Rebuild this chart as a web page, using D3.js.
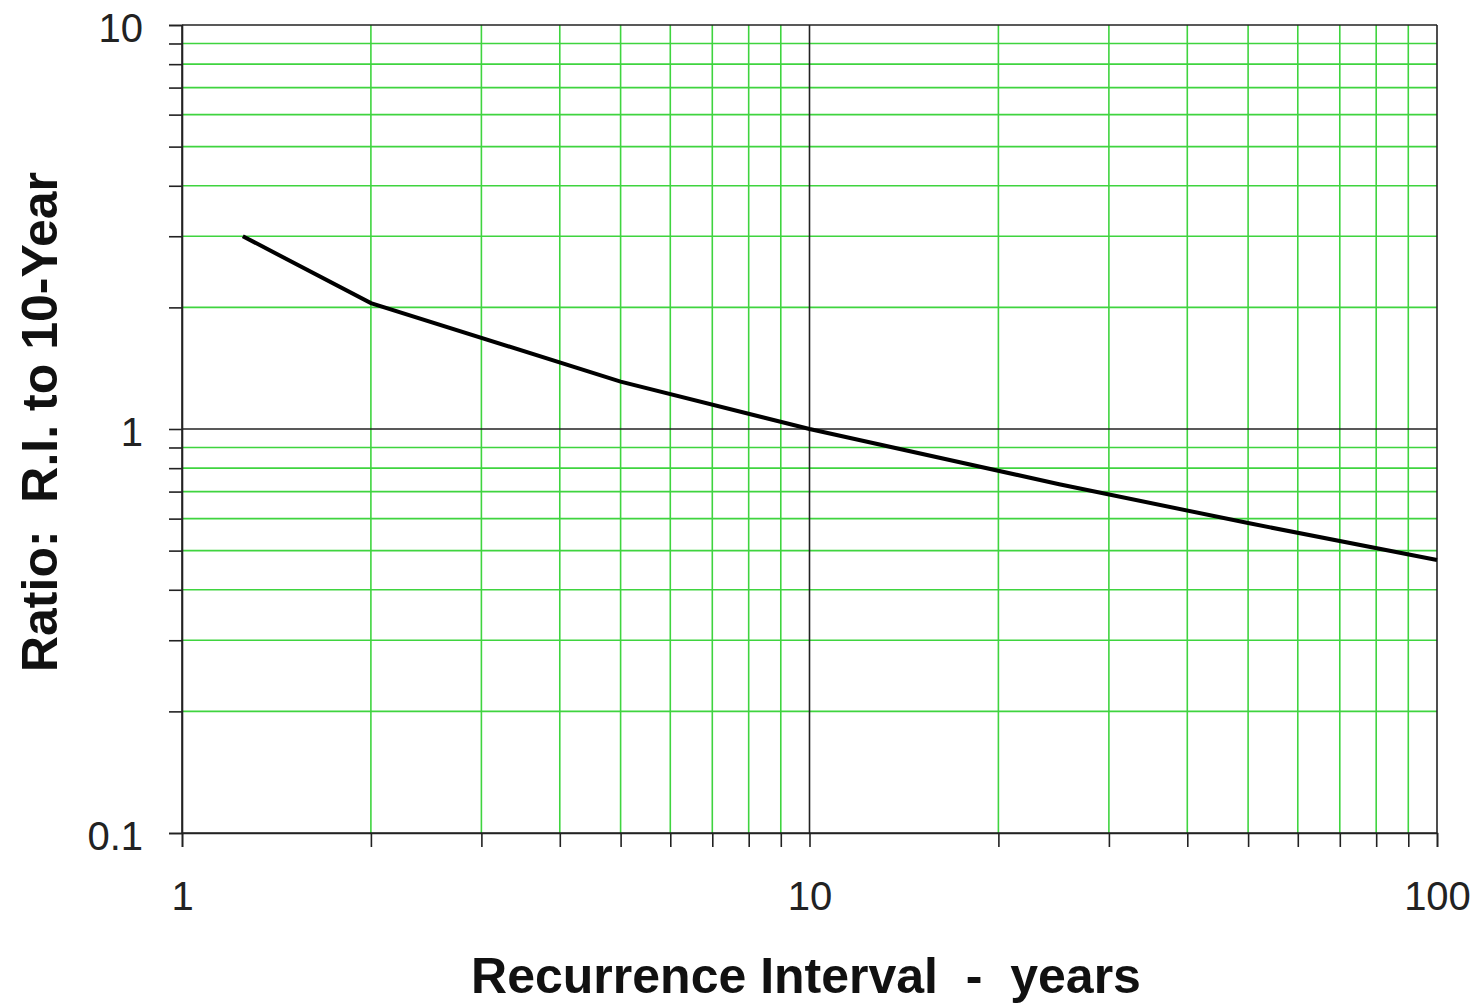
<!DOCTYPE html>
<html>
<head>
<meta charset="utf-8">
<script src="https://cdn.jsdelivr.net/npm/d3@7"></script>
<style>
  body { margin: 0; background: #fff; }
  svg { display: block; font-family: 'Liberation Sans', Arial, sans-serif; }
</style>
</head>
<body>
<div id="chart"></div>
<script>
'use strict';

// recurrence interval (years) and ratio to the 10-year value
const intervals = [1.25, 2, 5, 10, 25, 50, 100];
const ratios = [3.0, 2.05, 1.31, 1.0, 0.73, 0.585, 0.474];

const xTickLabels = [1, 10, 100];
const yTickLabels = [0.1, 1, 10];

const width = 1477;
const height = 1004;
const margin = { left: 182, right: 40, top: 25, bottom: 171 };

const svg = d3.select('#chart')
  .append('svg')
    .attr('width', width)
    .attr('height', height);

const x = d3.scaleLog()
  .domain([1, 100])
  .range([margin.left, width - margin.right]);

const y = d3.scaleLog()
  .domain([0.1, 10])
  .range([height - margin.bottom, margin.top]);

// minor values 2..9 in each decade
const minorX = [];
const minorY = [];
[1, 10].forEach(d => { for (let k = 2; k <= 9; k++) minorX.push(d * k); });
[0.1, 1].forEach(d => { for (let k = 2; k <= 9; k++) minorY.push(+(d * k).toFixed(2)); });

const green = '#3fd43f';

// green minor grid
svg.append('g')
  .selectAll('line')
  .data(minorX)
  .join('line')
    .attr('x1', d => x(d)).attr('x2', d => x(d))
    .attr('y1', y(10)).attr('y2', y(0.1))
    .attr('stroke', green)
    .attr('stroke-width', 1.6);

svg.append('g')
  .selectAll('line')
  .data(minorY)
  .join('line')
    .attr('x1', x(1)).attr('x2', x(100))
    .attr('y1', d => y(d)).attr('y2', d => y(d))
    .attr('stroke', green)
    .attr('stroke-width', 1.6);

// black major grid
svg.append('g')
  .selectAll('line')
  .data(xTickLabels)
  .join('line')
    .attr('x1', d => x(d)).attr('x2', d => x(d))
    .attr('y1', y(10)).attr('y2', y(0.1))
    .attr('stroke', '#222')
    .attr('stroke-width', 1.6);

svg.append('g')
  .selectAll('line')
  .data(yTickLabels)
  .join('line')
    .attr('x1', x(1)).attr('x2', x(100))
    .attr('y1', d => y(d)).attr('y2', d => y(d))
    .attr('stroke', '#222')
    .attr('stroke-width', 1.6);

// axes with tick marks
const xAxis = svg.append('g')
  .attr('transform', `translate(0,${y(0.1)})`)
  .call(d3.axisBottom(x)
    .tickValues(xTickLabels.concat(minorX))
    .tickSize(14)
    .tickPadding(35)
    .tickFormat(d => xTickLabels.includes(d) ? d : ''));

const yAxis = svg.append('g')
  .attr('transform', `translate(${x(1)},0)`)
  .call(d3.axisLeft(y)
    .tickValues(yTickLabels.concat(minorY))
    .tickSize(13)
    .tickPadding(26)
    .tickFormat(d => yTickLabels.includes(d) ? d : ''));

yAxis.selectAll('.tick text').attr('dy', '0.4em');

[xAxis, yAxis].forEach(a => {
  a.select('.domain').attr('stroke', '#222').attr('stroke-width', 1.6);
  a.selectAll('.tick line').attr('stroke', '#222').attr('stroke-width', 1.6);
  a.selectAll('.tick text')
    .attr('fill', '#222')
    .style('font-size', '40px')
    .style('font-family', "'Liberation Sans', Arial, sans-serif");
});

// the ratio curve
const line = d3.line()
  .x((d, i) => x(intervals[i]))
  .y(d => y(d));

svg.append('path')
  .datum(ratios)
  .attr('d', line)
  .attr('fill', 'none')
  .attr('stroke', '#000')
  .attr('stroke-width', 4);

// axis titles
svg.append('text')
  .attr('x', 806)
  .attr('y', 993)
  .attr('text-anchor', 'middle')
  .style('font-size', '50px')
  .style('font-weight', 'bold')
  .attr('fill', '#111')
  .attr('xml:space', 'preserve')
  .text('Recurrence Interval  -  years');

svg.append('text')
  .attr('transform', 'translate(57,422) rotate(-90)')
  .attr('text-anchor', 'middle')
  .style('font-size', '50px')
  .style('font-weight', 'bold')
  .attr('fill', '#111')
  .attr('xml:space', 'preserve')
  .text('Ratio:  R.I. to 10-Year');
</script>
</body>
</html>
